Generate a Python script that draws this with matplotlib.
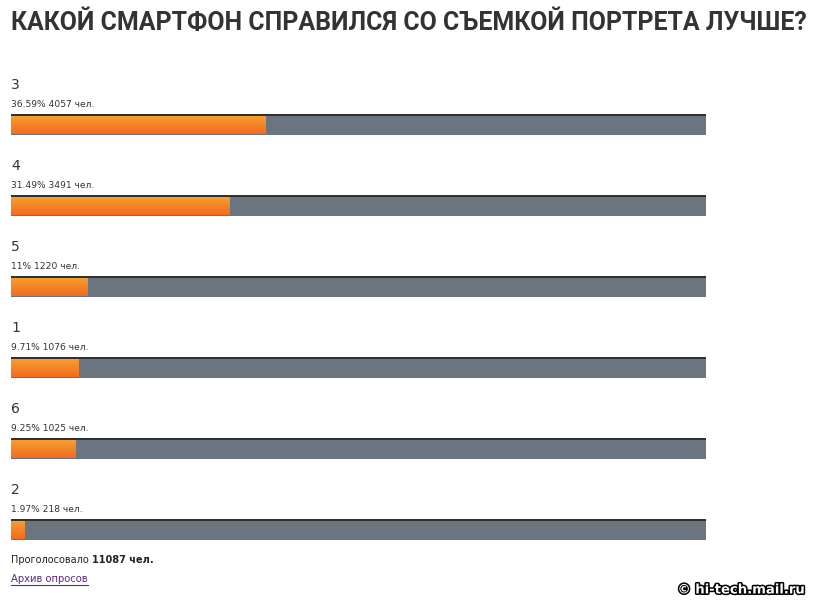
"""Poll results: which smartphone handled portrait shooting better."""

import matplotlib.pyplot as plt
import matplotlib.patheffects as pe
import numpy as np
from matplotlib.colors import LinearSegmentedColormap

title = "КАКОЙ СМАРТФОН СПРАВИЛСЯ СО СЪЕМКОЙ ПОРТРЕТА ЛУЧШЕ?"
options = ["3", "4", "5", "1", "6", "2"]
percents = [36.59, 31.49, 11, 9.71, 9.25, 1.97]
votes = [4057, 3491, 1220, 1076, 1025, 218]
total_votes = 11087

W, H = 817, 607
fig = plt.figure(figsize=(W / 100, H / 100), dpi=100)
fig.patch.set_facecolor("white")

# bar area spans x 11..706 px; one group = 81 px vertically
ax = fig.add_axes([11 / W, 0, 695 / W, 1])
ax.set_xlim(0, 100)
ax.set_ylim((H - 124.5) / 81, -124.5 / 81)
ax.axis("off")

orange = LinearSegmentedColormap.from_list("og", ["#f6a430", "#f36b1f"])
grad = np.linspace(0, 1, 32).reshape(-1, 1)
bar_h = 20 / 81

for i, (opt, pct, n) in enumerate(zip(options, percents, votes)):
    top, bottom = i - bar_h / 2, i + bar_h / 2
    ax.barh(i, 100, height=bar_h, color="#6b7580", linewidth=0)
    ax.imshow(grad, cmap=orange, aspect="auto", extent=(0, pct, bottom, top),
              interpolation="bilinear", zorder=2)
    ax.plot([0, 100], [top, top], color="#2e2e2e", linewidth=1.4, zorder=3,
            solid_capstyle="butt")
    ax.text(0, i - 0.49, opt, fontsize=10, color="#333333", va="center",
            family="DejaVu Sans")
    pct_txt = f"{pct:g}%"
    ax.text(0, i - 0.253, f"{pct_txt} {n} чел.", fontsize=6.6, color="#333333",
            va="center", family="DejaVu Sans")

# title: fit to the reference width (11..806 px)
ttl = fig.text(11 / W, 1 - 23 / H, title, fontsize=20, fontweight="bold",
               color="#333333", va="center", ha="left",
               family=["Roboto", "DejaVu Sans"])
fig.canvas.draw()
tw = ttl.get_window_extent().width
ttl.set_fontsize(20 * 795 / tw)

t = fig.text(11 / W, 1 - 560 / H, "Проголосовало ", fontsize=7,
             color="#222222", va="center", family="DejaVu Sans")
fig.canvas.draw()
bb = t.get_window_extent()
fig.text(bb.x1 / W, 1 - 560 / H, f"{total_votes} чел.", fontsize=7,
         fontweight="bold", color="#222222", va="center", family="DejaVu Sans")

link = fig.text(11 / W, 1 - 579 / H, "Архив опросов", fontsize=7.2,
                color="#5b2a86", va="center", family="DejaVu Sans")
fig.canvas.draw()
lb = link.get_window_extent()
fig.add_artist(plt.Line2D([lb.x0 / W, lb.x1 / W], [(lb.y0 - 1) / H] * 2,
                          color="#5b2a86", linewidth=0.8))

fig.text(806 / W, 1 - 590 / H, "© hi-tech.mail.ru", fontsize=9.5,
         fontweight="bold", color="white", ha="right", va="center",
         family="DejaVu Sans",
         path_effects=[pe.Stroke(linewidth=2.2, foreground="black"), pe.Normal()])

fig.savefig("out.png", dpi=100, facecolor="white")
